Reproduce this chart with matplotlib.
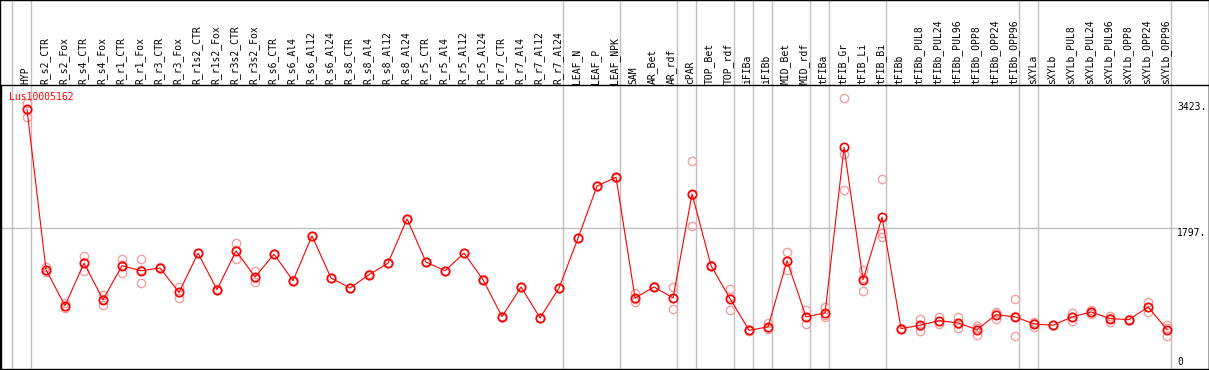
import matplotlib
matplotlib.use('Agg')
import matplotlib.pyplot as plt
from matplotlib.transforms import blended_transform_factory
from matplotlib.patches import Rectangle

# sample groups (a gray separator after each group)
groups = [
    ['HYP'],
    ['R_s2_CTR', 'R_s2_Fox', 'R_s4_CTR', 'R_s4_Fox', 'R_r1_CTR', 'R_r1_Fox',
     'R_r3_CTR', 'R_r3_Fox', 'R_r1s2_CTR', 'R_r1s2_Fox', 'R_r3s2_CTR', 'R_r3s2_Fox',
     'R_s6_CTR', 'R_s6_Al4', 'R_s6_Al12', 'R_s6_Al24', 'R_s8_CTR', 'R_s8_Al4',
     'R_s8_Al12', 'R_s8_Al24', 'R_r5_CTR', 'R_r5_Al4', 'R_r5_Al12', 'R_r5_Al24',
     'R_r7_CTR', 'R_r7_Al4', 'R_r7_Al12', 'R_r7_Al24'],
    ['LEAF_N', 'LEAF_P', 'LEAF_NPK'],
    ['SAM', 'AR_Bet', 'AR_rdf'],
    ['cPAR'],
    ['TOP_Bet', 'TOP_rdf'],
    ['iFIBa'],
    ['iFIBb'],
    ['MID_Bet', 'MID_rdf'],
    ['tFIBa'],
    ['tFIB_Gr', 'tFIB_Li', 'tFIB_Bi'],
    ['tFIBb', 'tFIBb_PUL8', 'tFIBb_PUL24', 'tFIBb_PUL96', 'tFIBb_OPP8', 'tFIBb_OPP24', 'tFIBb_OPP96'],
    ['sXYLa'],
    ['sXYLb', 'sXYLb_PUL8', 'sXYLb_PUL24', 'sXYLb_PUL96', 'sXYLb_OPP8', 'sXYLb_OPP24', 'sXYLb_OPP96'],
]

# mean expression per sample
means = [3332,
         1258, 793, 1344, 871, 1310, 1245, 1280, 965, 1473, 1000, 1503, 1164,
         1460, 1116, 1697, 1151, 1022, 1194, 1344, 1916, 1357, 1245, 1473, 1129,
         652, 1035, 635, 1022,
         1667, 2342, 2454,
         893, 1035, 893,
         2239,
         1310, 884,
         475,
         519,
         1374, 648,
         699,
         2841, 1129, 1938,
         497, 540, 599, 570, 484, 677, 648,
         557,
         540, 648, 712, 626, 613, 777, 484]

# replicates
rep1 = [3420,
        1290, 830, 1439, 927, 1396, 1396, 1290, 1030, 1480, 1005, 1602, 1236,
        1465, 1120, 1700, 1155, 1025, 1198, 1348, 1920, 1360, 1248, 1476, 1132,
        655, 1038, 638, 1025,
        1670, 2345, 2457,
        953, 1045, 1035,
        2661,
        1313, 1013,
        478,
        570,
        1494, 742,
        780,
        3474, 1249, 2428,
        505, 626, 651, 648, 530, 707, 880,
        586,
        543, 702, 737, 664, 616, 845, 548]
rep2 = [3330,
        1250, 790, 1236, 806, 1215, 1086, 1275, 893, 1470, 998, 1396, 1099,
        1457, 1113, 1694, 1148, 1019, 1190, 1340, 1912, 1354, 1242, 1470, 1126,
        649, 1032, 632, 1019,
        1664, 2339, 2451,
        845, 1030, 751,
        1826,
        1307, 738,
        472,
        500,
        1258, 557,
        643,
        2755, 987, 1732,
        490, 462, 552, 506, 414, 621, 398,
        521,
        537, 599, 682, 578, 610, 707, 406]
rep3 = [3240,
        1235, 760, 1357, 880, 1320, 1253, 1275, 972, 1469, 997, 1511, 1157,
        1458, 1115, 1697, 1150, 1022, 1194, 1344, 1916, 1357, 1245, 1473, 1129,
        652, 1035, 635, 1022,
        1667, 2342, 2454,
        881, 1030, 893,
        2230,
        1310, 900,
        475,
        490,
        1370, 645,
        674,
        2290, 1150, 1680,
        495, 532, 595, 556, 508, 703, 666,
        564,
        540, 643, 717, 636, 613, 779, 498]

gene = 'Lus10005162'
ytick_vals = [3423, 1797, 0]

labels = [s for g in groups for s in g]
xs = list(range(len(labels)))

W, H = 1209, 370
fig = plt.figure(figsize=(W / 100, H / 100), dpi=100)
ax_top, ax_bot = 85, 369
ax = fig.add_axes([0.5 / W, (H - ax_bot) / H, 1208 / W, (ax_bot - ax_top) / H])
ax.set_xlim(-1.395, 62.18)
ax.set_ylim(-26, 3648)
ax.set_xticks([])
ax.set_yticks([])
for s in ax.spines.values():
    s.set_color('black')
    s.set_linewidth(1)

grid_c = '#c0c0c0'
mono = 'DejaVu Sans Mono'
ytop = ax_bot / (ax_bot - ax_top)  # axes fraction of figure top

# group separators
pos = -1
ax.axvline(pos + 0.2, ymin=0, ymax=ytop, color=grid_c, lw=1, clip_on=False, zorder=1)
for g in groups:
    pos += len(g)
    ax.axvline(pos + 0.2, ymin=0, ymax=ytop, color=grid_c, lw=1, clip_on=False, zorder=1)

ax.axhline(ytick_vals[1], xmin=0, xmax=1176 / 1208, color=grid_c, lw=1, zorder=1)

# replicates
for r in (rep1, rep2, rep3):
    ax.plot(xs, r, linestyle='none', marker='o', ms=6, mfc='none',
            mec='#f0a0a0', mew=1.0, zorder=2)

# mean line
ax.plot(xs, means, color='red', lw=0.8, marker='o', ms=6, mfc='none',
        mec='red', mew=1.2, zorder=3)

# sample labels on top
trans = blended_transform_factory(ax.transData, ax.transAxes)
for x, lab in zip(xs, labels):
    ax.text(x - 0.08, (ax_bot - 83.5) / (ax_bot - ax_top), lab, rotation=90,
            ha='center', va='bottom', fontsize=7, family=mono, transform=trans)

# value labels on the right
for v in ytick_vals:
    ax.text(60.53, v, f'{v}.' if v else '0', ha='left',
            va='top' if v else 'bottom', fontsize=7, family=mono, clip_on=False)

ax.text(8.8 / 1208, (ax_bot - 97) / (ax_bot - ax_top), gene, color='red',
        fontsize=7, family=mono, va='center', ha='left', transform=ax.transAxes,
        zorder=4)

fig.patches.append(Rectangle((0.4 / W, 0.4 / H), 1 - 0.8 / W, 1 - 0.8 / H,
                             transform=fig.transFigure, fill=False,
                             ec='black', lw=1))

fig.savefig('out.png', dpi=100, facecolor='white')
